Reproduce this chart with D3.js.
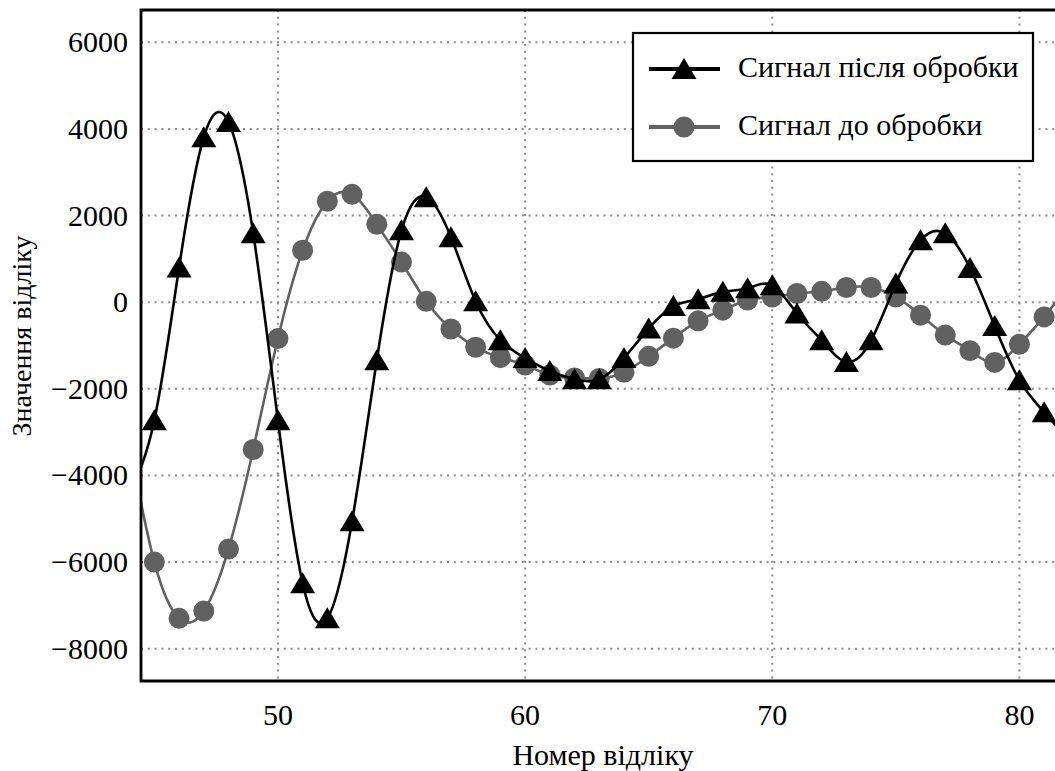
<!DOCTYPE html>
<html>
<head>
<meta charset="utf-8">
<script src="https://cdn.jsdelivr.net/npm/d3@7"></script>
</head>
<body style="margin:0">
<svg id="signal-plot"></svg>
<script>
// sample numbers (x axis)
const sampleNums = [44, 45, 46, 47, 48, 49, 50, 51, 52, 53, 54, 55, 56, 57, 58, 59, 60, 61, 62, 63,
  64, 65, 66, 67, 68, 69, 70, 71, 72, 73, 74, 75, 76, 77, 78, 79, 80, 81, 82];

// signal after processing (triangles)
const afterValues = [-4400, -2725, 800, 3810, 4160, 1590, -2725, -6490, -7300, -5060, -1340, 1660, 2425,
  1500, 20, -880, -1290, -1590, -1780, -1780, -1290, -610, -90, 70, 240, 320, 390, -260, -880, -1380,
  -880, 430, 1430, 1590, 790, -550, -1800, -2540, -3200];

// signal before processing (circles)
const beforeValues = [-3300, -6000, -7300, -7130, -5700, -3400, -840, 1200, 2330, 2490, 1800, 925, 20,
  -620, -1040, -1280, -1450, -1680, -1750, -1760, -1620, -1250, -830, -430, -185, 50, 120, 200, 250,
  340, 340, 120, -300, -760, -1120, -1390, -970, -340, 400];

const xTicks = [50, 60, 70, 80];
const yTicks = [-8000, -6000, -4000, -2000, 0, 2000, 4000, 6000];
const legendLabels = ["Сигнал після обробки", "Сигнал до обробки"];
const xTitle = "Номер відліку";
const yTitle = "Значення відліку";

const FONT = '"Liberation Serif"';

class SignalChart {
  constructor(_config) {
    this.config = {
      parentElement: _config.parentElement,
      containerWidth: 1055,
      containerHeight: 771,
      plot: { left: 141, top: 10, right: 1055, bottom: 681 },
      xDomain: [44.46, 81.44],
      yDomain: [-8746, 6746],
      fontSize: 30
    };
    this.initVis();
  }

  // helper so every label gets the same serif font
  label(sel, size) {
    return sel.style('font-family', FONT)
      .style('font-size', (size || this.config.fontSize) + 'px')
      .attr('fill', '#000');
  }

  initVis() {
    let vis = this;
    const c = vis.config;

    vis.svg = d3.select(c.parentElement)
      .attr('width', c.containerWidth)
      .attr('height', c.containerHeight)
      .style('display', 'block');

    vis.x = d3.scaleLinear().domain(c.xDomain).range([c.plot.left, c.plot.right]);
    vis.y = d3.scaleLinear().domain(c.yDomain).range([c.plot.bottom, c.plot.top]);

    vis.svg.append('defs').append('clipPath')
      .attr('id', 'plot-clip')
      .append('rect')
      .attr('x', c.plot.left)
      .attr('y', c.plot.top)
      .attr('width', c.plot.right - c.plot.left + 20)
      .attr('height', c.plot.bottom - c.plot.top);

    // dotted grid
    vis.svg.append('g').selectAll('line')
      .data(xTicks)
      .join('line')
      .attr('x1', d => vis.x(d)).attr('x2', d => vis.x(d))
      .attr('y1', c.plot.top).attr('y2', c.plot.bottom)
      .attr('stroke', '#8a8a8a').attr('stroke-width', 2)
      .attr('stroke-dasharray', '2,4.8');
    vis.svg.append('g').selectAll('line')
      .data(yTicks)
      .join('line')
      .attr('y1', d => vis.y(d)).attr('y2', d => vis.y(d))
      .attr('x1', c.plot.left).attr('x2', c.plot.right)
      .attr('stroke', '#8a8a8a').attr('stroke-width', 2)
      .attr('stroke-dasharray', '2,4.8');

    // tick labels
    vis.svg.append('g').selectAll('text')
      .data(xTicks)
      .join('text')
      .attr('x', d => vis.x(d))
      .attr('y', 725)
      .attr('text-anchor', 'middle')
      .call(s => vis.label(s))
      .text(d => d);
    vis.svg.append('g').selectAll('text')
      .data(yTicks)
      .join('text')
      .attr('x', 128)
      .attr('y', d => vis.y(d) + 10)
      .attr('text-anchor', 'end')
      .call(s => vis.label(s))
      .text(d => String(d).replace('-', '\u2212'));

    // axis titles
    vis.svg.append('text')
      .attr('x', 603).attr('y', 765)
      .attr('text-anchor', 'middle')
      .call(s => vis.label(s))
      .text(xTitle);
    vis.svg.append('text')
      .attr('transform', 'translate(31,336) rotate(-90)')
      .attr('text-anchor', 'middle')
      .call(s => vis.label(s, 28))
      .text(yTitle);

    vis.updateVis();
  }

  updateVis() {
    let vis = this;

    vis.before = sampleNums.map((n, i) => ({ n: n, v: beforeValues[i] }));
    vis.after = sampleNums.map((n, i) => ({ n: n, v: afterValues[i] }));

    vis.line = d3.line()
      .x(d => vis.x(d.n))
      .y(d => vis.y(d.v))
      .curve(d3.curveNatural);

    vis.triangle = 'M0,-11L12.5,10L-12.5,10Z';

    vis.renderVis();
  }

  renderVis() {
    let vis = this;
    const c = vis.config;
    const grey = '#616161';

    const marks = vis.svg.append('g').attr('clip-path', 'url(#plot-clip)');

    // before processing
    marks.append('path')
      .datum(vis.before)
      .attr('fill', 'none')
      .attr('stroke', grey)
      .attr('stroke-width', 2.6)
      .attr('d', vis.line);
    marks.selectAll('circle')
      .data(vis.before)
      .join('circle')
      .attr('cx', d => vis.x(d.n))
      .attr('cy', d => vis.y(d.v))
      .attr('r', 10.5)
      .attr('fill', grey);

    // after processing
    marks.append('path')
      .datum(vis.after)
      .attr('fill', 'none')
      .attr('stroke', '#000')
      .attr('stroke-width', 2.6)
      .attr('d', vis.line);
    marks.selectAll('path.tri')
      .data(vis.after)
      .join('path')
      .attr('class', 'tri')
      .attr('transform', d => `translate(${vis.x(d.n)},${vis.y(d.v)})`)
      .attr('d', vis.triangle)
      .attr('fill', '#000');

    // frame (right side is outside the picture)
    vis.svg.append('path')
      .attr('d', `M${c.plot.right + 10},${c.plot.top}H${c.plot.left}V${c.plot.bottom}H${c.plot.right + 10}`)
      .attr('fill', 'none')
      .attr('stroke', '#000')
      .attr('stroke-width', 2.8);

    // legend
    const lg = vis.svg.append('g');
    lg.append('rect')
      .attr('x', 633).attr('y', 33)
      .attr('width', 400).attr('height', 128)
      .attr('fill', '#fff')
      .attr('stroke', '#000')
      .attr('stroke-width', 2.2);
    const rows = [
      { label: legendLabels[0], color: '#000', shape: 'tri', y: 69 },
      { label: legendLabels[1], color: grey, shape: 'circle', y: 127 }
    ];
    rows.forEach(r => {
      lg.append('line')
        .attr('x1', 649).attr('x2', 720)
        .attr('y1', r.y).attr('y2', r.y)
        .attr('stroke', r.color)
        .attr('stroke-width', 4);
      if (r.shape === 'tri') {
        lg.append('path')
          .attr('transform', `translate(684,${r.y})`)
          .attr('d', vis.triangle)
          .attr('fill', r.color);
      } else {
        lg.append('circle')
          .attr('cx', 684).attr('cy', r.y).attr('r', 10.5)
          .attr('fill', r.color);
      }
      lg.append('text')
        .attr('x', 738).attr('y', r.y + 8)
        .call(s => vis.label(s))
        .text(r.label);
    });
  }
}

new SignalChart({ parentElement: '#signal-plot' });
</script>
</body>
</html>
